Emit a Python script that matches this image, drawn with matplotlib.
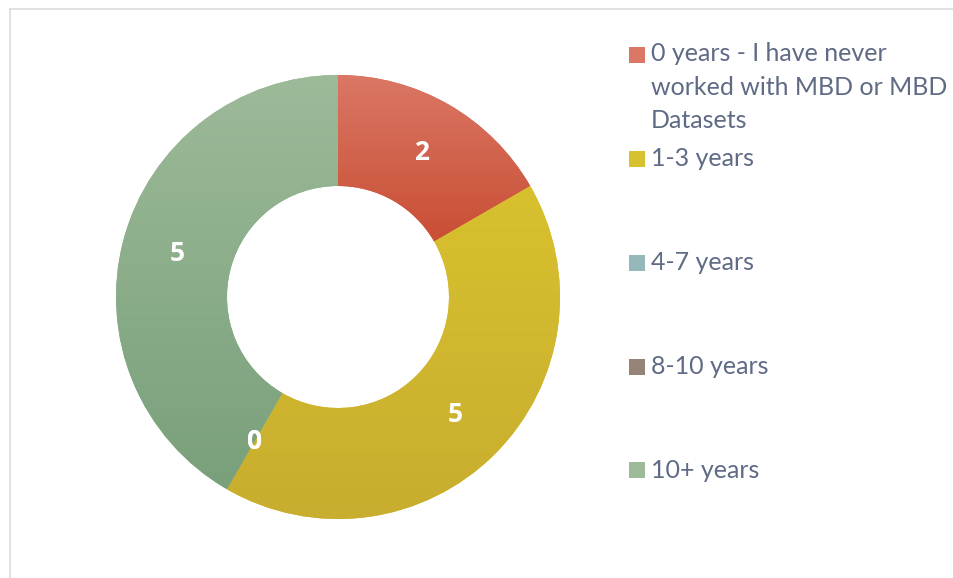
import numpy as np
import matplotlib
matplotlib.use("Agg")
import matplotlib.pyplot as plt
from matplotlib.patches import Rectangle
from matplotlib.lines import Line2D
from matplotlib.colors import to_rgb

categories = ["0 years - I have never\nworked with MBD or MBD\nDatasets",
              "1-3 years", "4-7 years", "8-10 years", "10+ years"]
values = [2, 5, 0, 0, 5]
top_colors = ["#DA7765", "#D8C12F", "#95B9BB", "#958377", "#9DBA99"]
bottom_colors = ["#C94E34", "#C8AD2E", "#76A0A3", "#7E6C61", "#79A07A"]
mid_colors = ["#D65B40", "#D4BA2A", "#7FA8AB", "#8A786C", "#8DB08A"]

plt.rcParams['font.family'] = ['Lato', 'DejaVu Sans']
W, H = 954, 578
fig = plt.figure(figsize=(W / 100, H / 100), dpi=100)

cx, cy, R = 338, 297, 222
ax = fig.add_axes([(cx - R) / W, (H - cy - R) / H, 2 * R / W, 2 * R / H])

total = sum(values)
wedges, texts, autotexts = ax.pie(
    values, startangle=90, counterclock=False, radius=1,
    colors=mid_colors,
    wedgeprops=dict(width=0.5, edgecolor='none'),
    autopct=lambda p: f"{int(round(p * total / 100))}",
    pctdistance=0.75,
    textprops=dict(color='white', fontsize=19, fontweight='bold',
                   family=['Open Sans', 'DejaVu Sans']))

for w, v, tc, bc in zip(wedges, values, top_colors, bottom_colors):
    if v == 0:
        continue
    ext = w.get_path().get_extents()
    t = np.linspace(0, 1, 256)[:, None]
    c0 = np.array(to_rgb(tc)); c1 = np.array(to_rgb(bc))
    img = (c0[None, :] * (1 - t) + c1[None, :] * t)[:, None, :]
    im = ax.imshow(img, extent=[ext.x0, ext.x1, ext.y0, ext.y1],
                   origin='upper', aspect='auto', zorder=1.5,
                   interpolation='bilinear')
    im.set_clip_path(w)

for at in autotexts:
    at.set_zorder(5)

ax.set_xlim(-1, 1)
ax.set_ylim(-1, 1)
ax.axis('off')

# frame lines
fig.add_artist(Line2D([10 / W, 10 / W], [0, 1 - 9 / H], transform=fig.transFigure,
                      color='#DCDCDC', lw=1.2))
fig.add_artist(Line2D([10 / W, 1], [1 - 9 / H, 1 - 9 / H], transform=fig.transFigure,
                      color='#DCDCDC', lw=1.2))

# legend
text_color = '#5F6A85'
entry_y = [55, 159, 263, 367, 470]
for lab, y, tc, bc in zip(categories, entry_y, top_colors, bottom_colors):
    fig.add_artist(Rectangle((629 / W, 1 - (y + 8) / H), 16 / W, 16 / H,
                             transform=fig.transFigure, facecolor=tc,
                             edgecolor='none'))
    if '\n' in lab:
        fig.text(651 / W, 1 - (y - 13) / H, lab, color=text_color, fontsize=18,
                 ha='left', va='top', linespacing=1.56)
    else:
        fig.text(651 / W, 1 - y / H, lab, color=text_color, fontsize=18,
                 ha='left', va='center')

fig.savefig("out.png", dpi=100, facecolor='white')
